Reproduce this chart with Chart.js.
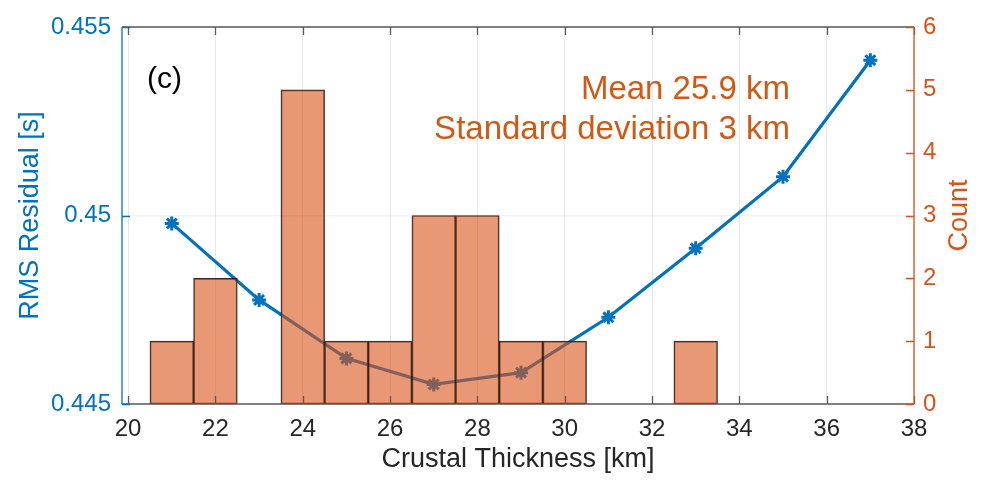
<!DOCTYPE html>
<html>
<head>
<meta charset="utf-8">
<script src="https://cdn.jsdelivr.net/npm/chart.js@4/dist/chart.umd.min.js"></script>
<style>
html,body{margin:0;padding:0;background:#fff;}
#wrap{width:989px;height:485px;position:relative;}
</style>
</head>
<body>
<div id="wrap"><canvas id="c" width="989" height="485"></canvas></div>
<script>
// ---- data ----
const thicknessKm = [21, 23, 25, 27, 29, 31, 33, 35, 37];
const rmsResidual = [0.44979, 0.44776, 0.44621, 0.44552, 0.44583, 0.44730, 0.44913, 0.45103, 0.45412];
const binCenters = [21, 22, 24, 25, 26, 27, 28, 29, 30, 33];
const binCounts  = [1, 2, 5, 1, 1, 3, 3, 1, 1, 1];
const xTickValues = [20, 22, 24, 26, 28, 30, 32, 34, 36, 38];
const yLeftTicks = [0.445, 0.45, 0.455];
const yLeftTickLabels = ['0.445', '0.45', '0.455'];
const yRightTicks = [0, 1, 2, 3, 4, 5, 6];
const annotationLines = ['Mean 25.9 km', 'Standard deviation 3 km'];
const panelLabel = '(c)';
const rightTitle = 'Count';

const BLUE = '#0072BD';
const ORANGE = '#D95319';
const TXT = '#262626';
const FONT = '"Liberation Sans", Arial, Helvetica, sans-serif';

const lineData = thicknessKm.map((x, i) => ({x: x, y: rmsResidual[i]}));
const barData = binCenters.map((x, i) => ({x: x, y: binCounts[i]}));

const framePlugin = {
  id: 'frame',
  afterDatasetsDraw(chart) {
    const {ctx, chartArea: a, scales} = chart;
    const xs = scales.x, yl = scales.y, yr = scales.y2;
    const tl = 8;
    ctx.save();
    ctx.lineWidth = 1.3;
    ctx.strokeStyle = '#5a5a5a';
    ctx.beginPath();
    ctx.moveTo(a.left, a.top); ctx.lineTo(a.right, a.top);
    ctx.moveTo(a.left, a.bottom); ctx.lineTo(a.right, a.bottom);
    xTickValues.forEach(v => {
      const px = Math.round(xs.getPixelForValue(v)) + 0.5;
      ctx.moveTo(px, a.top); ctx.lineTo(px, a.top + tl);
      ctx.moveTo(px, a.bottom); ctx.lineTo(px, a.bottom - tl);
    });
    ctx.stroke();
    ctx.strokeStyle = BLUE;
    ctx.beginPath();
    ctx.moveTo(a.left, a.top); ctx.lineTo(a.left, a.bottom);
    yLeftTicks.forEach(v => {
      const py = Math.round(yl.getPixelForValue(v)) + 0.5;
      ctx.moveTo(a.left, py); ctx.lineTo(a.left + tl, py);
    });
    ctx.stroke();
    ctx.strokeStyle = ORANGE;
    ctx.beginPath();
    ctx.moveTo(a.right, a.top); ctx.lineTo(a.right, a.bottom);
    yRightTicks.forEach(v => {
      const py = Math.round(yr.getPixelForValue(v)) + 0.5;
      ctx.moveTo(a.right, py); ctx.lineTo(a.right - tl, py);
    });
    ctx.stroke();
    ctx.fillStyle = '#000';
    ctx.font = '30px ' + FONT;
    ctx.textAlign = 'left';
    ctx.textBaseline = 'alphabetic';
    ctx.fillText(panelLabel, 147, 88);
    ctx.fillStyle = '#CF5A16';
    ctx.font = '33px ' + FONT;
    ctx.textAlign = 'right';
    ctx.fillText(annotationLines[0], 790, 99);
    ctx.fillText(annotationLines[1], 790, 139);
    // right axis title, reading bottom-to-top
    ctx.save();
    ctx.translate(960, (a.top + a.bottom) / 2);
    ctx.rotate(-Math.PI / 2);
    ctx.fillStyle = ORANGE;
    ctx.font = '27px ' + FONT;
    ctx.textAlign = 'center';
    ctx.textBaseline = 'middle';
    ctx.fillText(rightTitle, 0, 0);
    ctx.restore();
    ctx.restore();
  }
};

new Chart(document.getElementById('c'), {
  data: {
    datasets: [
      {
        type: 'bar',
        data: barData,
        xAxisID: 'x',
        yAxisID: 'y2',
        backgroundColor: 'rgba(217,83,25,0.6)',
        borderColor: 'rgba(20,20,20,0.9)',
        borderWidth: 1,
        borderSkipped: false,
        barPercentage: 1,
        categoryPercentage: 1,
        order: 1
      },
      {
        type: 'line',
        data: lineData,
        xAxisID: 'x',
        yAxisID: 'y',
        borderColor: BLUE,
        backgroundColor: BLUE,
        borderWidth: 3.2,
        pointStyle: 'star',
        pointRadius: 7,
        pointBorderWidth: 3,
        pointBorderColor: BLUE,
        tension: 0,
        order: 2
      }
    ]
  },
  options: {
    responsive: false,
    animation: false,
    layout: {padding: {top: 27, left: 0, right: 0, bottom: 0}},
    plugins: {legend: {display: false}, tooltip: {enabled: false}},
    scales: {
      x: {
        type: 'linear',
        position: 'bottom',
        offset: false,
        min: 19.86,
        max: 38,
        afterBuildTicks: s => { s.ticks = xTickValues.map(v => ({value: v})); },
        afterFit: s => { s.height = 81; },
        grid: {color: 'rgba(38,38,38,0.11)', drawTicks: false, lineWidth: 1, offset: false},
        border: {display: false},
        ticks: {color: TXT, font: {family: FONT, size: 24}, padding: 11, maxRotation: 0,
                callback: v => String(v)},
        title: {display: true, text: 'Crustal Thickness [km]', color: TXT,
                font: {family: FONT, size: 27}, padding: {bottom: 9, top: 0}}
      },
      y: {
        type: 'linear',
        position: 'left',
        min: 0.445,
        max: 0.455,
        afterBuildTicks: s => { s.ticks = yLeftTicks.map(v => ({value: v})); },
        afterFit: s => { s.width = 122; },
        grid: {color: 'rgba(0,114,189,0.08)', drawTicks: false, lineWidth: 1.5},
        border: {display: false},
        ticks: {color: BLUE, font: {family: FONT, size: 24}, padding: 11,
                callback: v => yLeftTickLabels[yLeftTicks.indexOf(v)]},
        title: {display: true, text: 'RMS Residual [s]', color: BLUE,
                font: {family: FONT, size: 27}, padding: {top: 14, bottom: 0}}
      },
      y2: {
        type: 'linear',
        position: 'right',
        min: 0,
        max: 6,
        afterBuildTicks: s => { s.ticks = yRightTicks.map(v => ({value: v})); },
        afterFit: s => { s.width = 75; },
        grid: {display: false, drawTicks: false},
        border: {display: false},
        ticks: {color: ORANGE, font: {family: FONT, size: 24}, padding: 9},
        title: {display: false}
      }
    }
  },
  plugins: [framePlugin]
});
</script>
</body>
</html>
